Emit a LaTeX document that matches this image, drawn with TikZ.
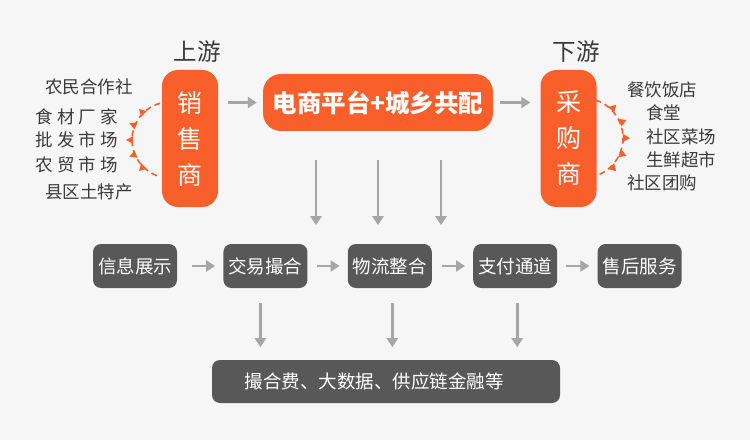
\documentclass[tikz,border=0pt]{standalone}
\usepackage{fontspec}
\setmainfont{Noto Sans CJK SC}
\usetikzlibrary{positioning,calc,arrows.meta}
\definecolor{paper}{HTML}{F6F6F6}
\definecolor{hot}{HTML}{F95F2A}
\definecolor{dark}{HTML}{585858}
\definecolor{arrgray}{HTML}{A6A6A6}
\definecolor{ink}{HTML}{3A3A3A}
\tikzset{
  trader/.style={fill=hot, rounded corners=16pt, minimum width=56pt, minimum height=137pt,
    text=white, align=center, font=\fontsize{25}{36}\selectfont, inner sep=0pt},
  stage/.style={fill=dark, rounded corners=8pt, minimum width=84pt, minimum height=44pt,
    text=white, font=\fontsize{18.5}{20}\selectfont, inner sep=0pt},
  flow/.style={draw=arrgray, line width=2.6pt, -{Triangle[length=9pt,width=11pt]}},
  loop/.style={draw=hot, line width=1.6pt, dash pattern=on 6pt off 4pt},
  lbl/.style={text=ink, font=\fontsize{17.5}{20}\selectfont, inner sep=0pt},
  head/.style={text=ink, font=\fontsize{23.5}{25}\selectfont, inner sep=0pt},
}
\begin{document}
\begin{tikzpicture}[x=1pt, y=1pt]
    \fill[paper](0, 0) rectangle (750, 440);
    \useasboundingbox(0, 0) rectangle (750, 440);

    % dashed loops
    \coordinate (lc) at (170, 300);
    \coordinate (rc) at (583, 302);
      \draw[loop]($(lc)+(105:38)$) arc[start angle=105, end angle=252, radius=38];
      \foreach \a in {135, 157.5, 180, 202.5, 225}
        \fill[hot]($(lc)+(\a:44)$) -- ($(lc)+(\a+6:37)$) -- ($(lc)+(\a-6:37)$) -- cycle;
      \draw[loop]($(rc)+(72:40)$) arc[start angle=72, end angle=-72, radius=40];
      \foreach \a in {45, 22.5, 0, -22.5, -45}
        \fill[hot]($(rc)+(\a:47)$) -- ($(rc)+(\a+6:40)$) -- ($(rc)+(\a-6:40)$) -- cycle;

    % top row
    \node[trader] (seller) at (190, 301.5){销\\售\\商};
    \node[trader] (buyer) at (568.5, 301.5){采\\购\\商};
    \node[fill=hot, rounded corners=18pt, minimum width=230pt, minimum height=57pt, inner sep=0pt,
      text=white, font=\bfseries\fontsize{24.5}{26}\selectfont] (plat) at (378, 337.5){电商平台+城乡共配};
    \node[head] (up) at (197, 388){上游};
    \node[head] (down) at (576, 388){下游};
      \draw[flow]([xshift=10pt]seller.east |- plat.west) -- ([xshift=-6pt]plat.west);
      \draw[flow]([xshift=7pt]plat.east) -- ([xshift=-10pt]buyer.west |- plat.east);
      \foreach \dx in {-62, 0, 63}
        \draw[flow]([xshift=\dx pt, yshift=-29pt]plat.south) -- ++(0, -65);

    \node[lbl, anchor=east] (n1) at (133, 353){农民合作社};
    \node[lbl, anchor=east] (n2) at (118, 323){食\kern4pt 材\kern4pt 厂\kern4pt 家};
    \node[lbl, anchor=east] (n3) at (118, 300){批\kern4pt 发\kern4pt 市\kern4pt 场};
    \node[lbl, anchor=east] (n4) at (118, 275){农\kern4pt 贸\kern4pt 市\kern4pt 场};
    \node[lbl, anchor=east] (n5) at (133, 248){县区土特产};

    \node[lbl, anchor=west] (m1) at (627, 350){餐饮饭店};
    \node[lbl, anchor=west] (m2) at (646, 327){食堂};
    \node[lbl, anchor=west] (m3) at (646, 303){社区菜场};
    \node[lbl, anchor=west] (m4) at (646, 280){生鲜超市};
    \node[lbl, anchor=west] (m5) at (627, 257){社区团购};

    % bottom rows
    \node[stage] (info) at (135, 174){信息展示};
    \node[stage, right=46pt of info] (trade){交易撮合};
    \node[stage, right=40pt of trade] (logis){物流整合};
    \node[stage, right=41pt of logis] (pay){支付通道};
    \node[stage, right=40pt of pay] (after){售后服务};
      \draw[flow]([xshift=15pt]info.east) -- ([xshift=-8pt]trade.west);
      \draw[flow]([xshift=9pt]trade.east) -- ([xshift=-8pt]logis.west);
      \draw[flow]([xshift=10pt]logis.east) -- ([xshift=-8pt]pay.west);
      \draw[flow]([xshift=9pt]pay.east) -- ([xshift=-8pt]after.west);

    \node[stage, minimum width=348pt, minimum height=43pt] (result) at (386, 58.5){撮合费、大数据、供应链金融等\kern24pt};
      \draw[flow]([xshift=-5pt, yshift=-15pt]trade.south) -- ++(0, -44);
      \draw[flow]([xshift=2.5pt, yshift=-15pt]logis.south) -- ++(0, -44);
      \draw[flow]([xshift=2pt, yshift=-15pt]pay.south) -- ++(0, -44);
  \end{tikzpicture}
\end{document}
